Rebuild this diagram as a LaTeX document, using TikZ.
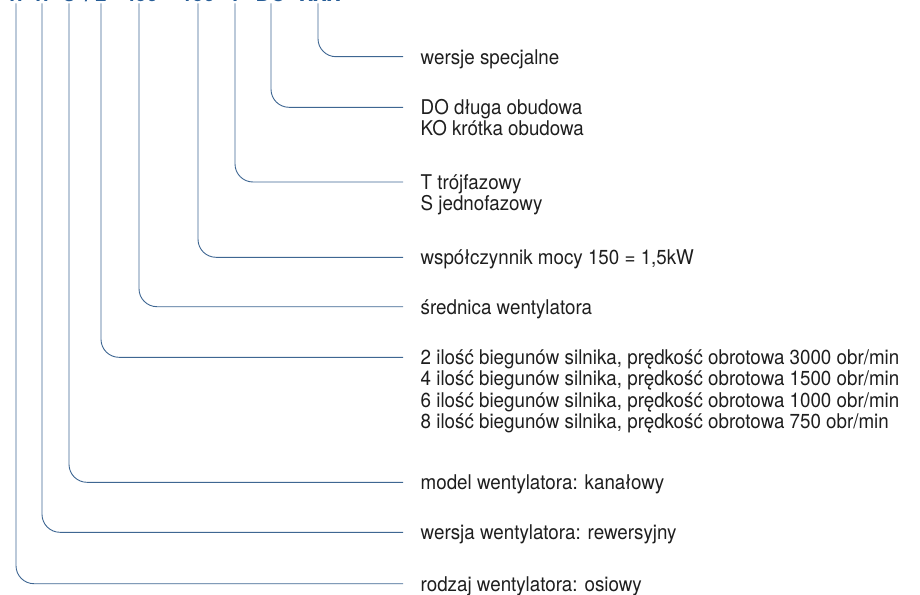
\documentclass[tikz,border=0pt]{standalone}
\usepackage{fontspec}
\setmainfont{TeX Gyre Heros}[FakeStretch=0.925]
\definecolor{linec}{RGB}{62,102,146}
\definecolor{codec}{RGB}{38,92,150}
\definecolor{textc}{RGB}{30,30,30}
\begin{document}
\begin{tikzpicture}[x=1pt,y=-1pt,
  lab/.style={anchor=west,inner xsep=17.5pt,inner ysep=0pt,text height=14.8pt,text depth=0pt,
    font=\fontsize{20.3pt}{21pt}\selectfont,text=textc},
  code/.style={anchor=base,inner sep=0pt,text depth=0pt,font=\fontsize{22pt}{24pt}\selectfont\bfseries,text=codec},
  conn/.style={draw=linec,line width=0.9pt,rounded corners=18pt}]
\useasboundingbox (0,0) rectangle (920,594);
% code pieces (cut off at the top edge)
\node[code] (c1) at (16,1.7) {W};
\node[code] (c2) at (42,1.7) {W};
\node[code] (c3) at (69,1.7) {C};
\node[code] (cs) at (88,1.7) {/};
\node[code] (c4) at (101,1.7) {2};
\node[code] (c5) at (141,1.7) {450};
\node[code] (c6) at (198,1.7) {150};
\node[code] (c7) at (235,1.7) {T};
\node[code] (c8) at (271,1.7) {DO};
\node[code] (c9) at (320,1.7) {XXX};
% labels
\node[lab] (l9) at (403,56.7) {wersje specjalne};
\node[lab] (l8) at (403,107.3) {DO długa obudowa};
\node[lab] (l8b) at (403,128.3) {KO krótka obudowa};
\node[lab] (l7) at (403,182) {T trójfazowy};
\node[lab] (l7b) at (403,203) {S jednofazowy};
\node[lab] (l6) at (403,257.3) {współczynnik mocy 150 = 1,5kW};
\node[lab] (l5) at (403,306.7) {średnica wentylatora};
\node[lab] (l4) at (403,357.3) {2 ilość biegunów silnika, prędkość obrotowa 3000 obr/min};
\node[lab] (l4b) at (403,378.5) {4 ilość biegunów silnika, prędkość obrotowa 1500 obr/min};
\node[lab] (l4c) at (403,399.7) {6 ilość biegunów silnika, prędkość obrotowa 1000 obr/min};
\node[lab] (l4d) at (403,420.9) {8 ilość biegunów silnika, prędkość obrotowa 750 obr/min};
\node[lab] (l3) at (403,482.3) {model wentylatora: kanałowy};
\node[lab] (l2) at (403,532.3) {wersja wentylatora: rewersyjny};
\node[lab] (l1) at (403,583.7) {rodzaj wentylatora: osiowy};
% connectors
\draw[conn] ([yshift=-1.6pt]c1.south) |- (l1.west);
\draw[conn] ([yshift=-1.6pt]c2.south) |- (l2.west);
\draw[conn] ([yshift=-1.6pt]c3.south) |- (l3.west);
\draw[conn] ([yshift=-1.6pt]c4.south) |- (l4.west);
\draw[conn] ([yshift=-1.6pt,xshift=-2pt]c5.south) |- (l5.west);
\draw[conn] ([yshift=-1.6pt]c6.south) |- (l6.west);
\draw[conn] ([yshift=-1.6pt]c7.south) |- (l7.west);
\draw[conn] ([yshift=-1.6pt]c8.south) |- (l8.west);
\draw[conn] ([yshift=-1.6pt,xshift=-2pt]c9.south) |- (l9.west);
\end{tikzpicture}
\end{document}
